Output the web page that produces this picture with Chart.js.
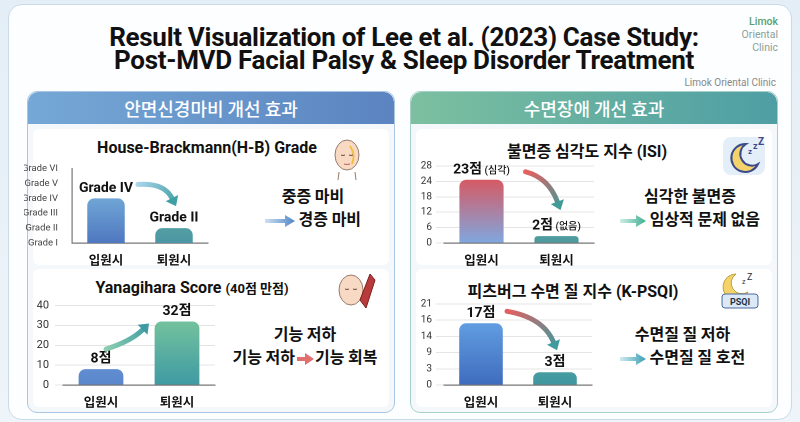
<!DOCTYPE html>
<html>
<head>
<meta charset="utf-8">
<script src="https://cdn.jsdelivr.net/npm/chart.js@4.4.0/dist/chart.umd.min.js"></script>
<style>
  html, body { margin: 0; padding: 0; }
  body {
    width: 800px; height: 422px; overflow: hidden; position: relative;
    background: linear-gradient(180deg, #e4eef6, #eef4f9);
    font-family: "Roboto", "Noto Sans CJK KR", sans-serif;
  }
  .abs { position: absolute; }
  .card {
    left: 8px; top: 4px; width: 782px; height: 414px;
    background: #fdfeff; border: 1px solid #c9dbe8; border-radius: 14px;
  }
  .title {
    left: 4px; width: 800px; text-align: center; font-weight: 700;
    font-size: 26px; line-height: 30px; color: #111; letter-spacing: -0.3px;
  }
  .brand { left: 720px; top: 15px; width: 58px; text-align: right; font-size: 10.5px; line-height: 13px; color: #8aa098; }
  .brand b { color: #5aa070; font-weight: 500; }
  .brand2 { left: 600px; top: 77px; width: 176px; text-align: right; font-size: 10px; color: #888; }
  .panel { top: 91px; width: 366px; height: 320px; border-radius: 10px; background: #f4f8fb; }
  .head { left: 0; top: 0; width: 100%; height: 32px; border-radius: 10px 10px 0 0;
    color: #fff; font-size: 18px; font-family: "Noto Sans CJK KR"; font-weight: 500; text-align: center; line-height: 32px; }
  .sub { background: #fff; border-radius: 6px; }
  .ctitle { font-weight: 700; font-size: 16px; color: #111; text-align: center; font-family: "Roboto", "Noto Sans CJK KR"; }
  .side { font-family: "Noto Sans CJK KR"; font-weight: 700; font-size: 16px; color: #111; text-align: center; line-height: 23px; }
  .arr { display: inline-block; vertical-align: middle; }
  canvas { position: absolute; }
</style>
</head>
<body>
<div class="abs card"></div>
<div class="abs title" style="top:22px">Result Visualization of Lee et al. (2023) Case Study:</div>
<div class="abs title" style="top:45px">Post-MVD Facial Palsy &amp; Sleep Disorder Treatment</div>
<div class="abs brand"><b>Limok</b><br>Oriental<br>Clinic</div>
<div class="abs brand2">Limok Oriental Clinic</div>

<div class="abs panel" style="left:27px; border:1px solid #a9c6e2">
  <div class="abs head" style="background:linear-gradient(90deg,#75a8d6,#5b84c0)">안면신경마비 개선 효과</div>
  <div class="abs sub" style="left:5px; top:37px; width:356px; height:136px;"></div>
  <div class="abs sub" style="left:5px; top:177px; width:356px; height:138px;"></div>
</div>
<div class="abs panel" style="left:410px; border:1px solid #a9d0c8">
  <div class="abs head" style="background:linear-gradient(90deg,#7cc0a0,#4e9ea4)">수면장애 개선 효과</div>
  <div class="abs sub" style="left:5px; top:37px; width:356px; height:136px;"></div>
  <div class="abs sub" style="left:5px; top:177px; width:356px; height:138px;"></div>
</div>

<div class="abs ctitle" style="left:57px; top:138px; width:300px">House-Brackmann(H-B) Grade</div>
<div class="abs ctitle" style="left:42px; top:278px; width:300px">Yanagihara Score <span style="font-size:13px">(40점 만점)</span></div>
<div class="abs ctitle" style="left:437px; top:138px; width:300px">불면증 심각도 지수 (ISI)</div>
<div class="abs ctitle" style="left:423px; top:278px; width:300px">피츠버그 수면 질 지수 (K-PSQI)</div>

<div class="abs side" style="left:248px; top:184px; width:130px">중증 마비<br><span class="arr"><svg width="30" height="12"><defs><linearGradient id="g1"><stop offset="0" stop-color="#cfe0f3"/><stop offset="1" stop-color="#4f86c6"/></linearGradient></defs><path d="M0 4h20v-4l10 6-10 6v-4H0z" fill="url(#g1)"/></svg></span> 경증 마비</div>
<div class="abs side" style="left:220px; top:322px; width:170px">기능 저하<br>기능 저하<span class="arr"><svg width="20" height="12"><path d="M2 4h8v-4l9 6-9 6v-4H2z" fill="#e07070"/></svg></span>기능 회복</div>
<div class="abs side" style="left:600px; top:184px; width:180px">심각한 불면증<br><span class="arr"><svg width="26" height="12"><defs><linearGradient id="g2"><stop offset="0" stop-color="#cfeee4"/><stop offset="1" stop-color="#3fae94"/></linearGradient></defs><path d="M0 4h16v-4l10 6-10 6v-4H0z" fill="url(#g2)"/></svg></span> 임상적 문제 없음</div>
<div class="abs side" style="left:600px; top:322px; width:165px">수면질 질 저하<br><span class="arr"><svg width="26" height="12"><defs><linearGradient id="g3"><stop offset="0" stop-color="#cfeaf0"/><stop offset="1" stop-color="#3a9fb4"/></linearGradient></defs><path d="M0 4h16v-4l10 6-10 6v-4H0z" fill="url(#g3)"/></svg></span> 수면질 질 호전</div>

<!-- simple icons -->
<svg class="abs" style="left:330px; top:136px" width="34" height="44">
  <ellipse cx="17" cy="19" rx="12" ry="15" fill="#f7d9c4" stroke="#9a7a6a" stroke-width="1"/>
  <path d="M9 36 L8 44 M25 36 L26 44" stroke="#9a7a6a"/>
  <path d="M20 10 q6 8 2 18" stroke="#f0c040" stroke-width="2" fill="none"/>
  <path d="M11 19 q2 1 4 0 M19 19 q2 1 4 0" stroke="#6a4a3a" fill="none"/>
  <path d="M14 28 q3 1 6 0" stroke="#c06060" fill="none"/>
</svg>
<svg class="abs" style="left:336px; top:270px" width="40" height="42">
  <ellipse cx="15" cy="20" rx="12" ry="15" fill="#f7d9c4" stroke="#9a7a6a"/>
  <path d="M9 19 q2 1 4 0 M17 19 q2 1 4 0" stroke="#6a4a3a" fill="none"/>
  <path d="M24 30 L34 4 L39 10 L30 38 Z" fill="#b83a3a" stroke="#7a2020"/>
</svg>
<svg class="abs" style="left:722px; top:136px" width="44" height="40">
  <rect x="1" y="1" width="42" height="38" rx="8" fill="#e4eef8"/>
  <path d="M24 8 a14 14 0 1 0 12 20 a11 11 0 1 1 -12 -20z" fill="#f3d36a" stroke="#3a4a8a" stroke-width="2"/>
  <text x="26" y="18" font-size="8" fill="#3a4a8a" font-weight="700">z</text>
  <text x="31" y="13" font-size="9" fill="#3a4a8a" font-weight="700">z</text>
  <text x="36" y="9" font-size="10" fill="#3a4a8a" font-weight="700">Z</text>
</svg>
<svg class="abs" style="left:718px; top:270px" width="44" height="40">
  <path d="M18 4 a13 13 0 1 0 12 18 a10 10 0 1 1 -12 -18z" fill="#f3d36a" stroke="#c0a040"/>
  <text x="24" y="14" font-size="7" fill="#333">z</text>
  <text x="29" y="10" font-size="9" fill="#333">Z</text>
  <rect x="4" y="24" width="36" height="14" rx="3" fill="#dbe8f8" stroke="#4a6a9a"/>
  <text x="22" y="35" font-size="9" font-weight="700" fill="#234" text-anchor="middle">PSQI</text>
</svg>

<canvas id="hb" width="188" height="115" style="left:24px; top:157px"></canvas>
<canvas id="yana" width="182" height="121" style="left:37px; top:293px"></canvas>
<canvas id="isi" width="180" height="116" style="left:418px; top:156px"></canvas>
<canvas id="psqi" width="176" height="120" style="left:420px; top:294px"></canvas>

<script>
// categories
const stages = ['입원시', '퇴원시'];

// House-Brackmann grade (1 = Grade I ... 6 = Grade VI)
const hbGradeLabels = ['Grade I', 'Grade II', 'Grade III', 'Grade IV', 'Grade V', 'Grade VI'];
const hbValues = [4, 2];
const hbBarLabels = [['Grade IV', ''], ['Grade II', '']];

// Yanagihara score (40 max)
const yanaValues = [8, 32];
const yanaBarLabels = [['8점', ''], ['32점', '']];

// ISI
const isiTickLabels = ['0', '6', '12', '18', '24', '28'];
const isiValues = [23, 2.5];
const isiBarLabels = [['23점', ' (심각)'], ['2점', ' (없음)']];

// K-PSQI
const psqiTickLabels = ['0', '3', '9', '14', '16', '21'];
const psqiValues = [16, 3.3];
const psqiBarLabels = [['17점', ''], ['3점', '']];

const FONT = '"Roboto", "Noto Sans CJK KR", sans-serif';

// one scriptable colour per chart: [top, bottom] gradient stops for each bar
function vGrad(stops) {
  return function (ctx) {
    const [colTop, colBottom] = stops[ctx.dataIndex];
    const area = ctx.chart.chartArea;
    if (!area) return colBottom;
    const g = ctx.chart.ctx.createLinearGradient(0, area.top, 0, area.bottom);
    g.addColorStop(0, colTop);
    g.addColorStop(1, colBottom);
    return g;
  };
}

function drawArrow(c, x0, y0, cx, cy, x1, y1, c0, c1) {
  const g = c.createLinearGradient(x0, y0, x1, y1);
  g.addColorStop(0, c0);
  g.addColorStop(1, c1);
  const ang = Math.atan2(y1 - cy, x1 - cx);
  const hx = x1 - Math.cos(ang) * 9, hy = y1 - Math.sin(ang) * 9;
  c.save();
  c.strokeStyle = g;
  c.lineWidth = 5;
  c.lineCap = 'round';
  c.beginPath();
  c.moveTo(x0, y0);
  c.quadraticCurveTo(cx, cy, hx, hy);
  c.stroke();
  c.fillStyle = c1;
  c.beginPath();
  c.moveTo(x1, y1);
  c.lineTo(hx + Math.cos(ang + Math.PI / 2) * 7, hy + Math.sin(ang + Math.PI / 2) * 7);
  c.lineTo(hx - Math.cos(ang + Math.PI / 2) * 7, hy - Math.sin(ang + Math.PI / 2) * 7);
  c.closePath();
  c.fill();
  c.restore();
}

// draws the value labels and the arrow between the two bars
function decoPlugin(labels, bigSize, arrowFn) {
  return {
    id: 'deco',
    afterDatasetsDraw(chart) {
      const c = chart.ctx;
      const bars = chart.getDatasetMeta(0).data;
      c.save();
      c.textBaseline = 'bottom';
      bars.forEach((b, i) => {
        const [big, small] = labels[i];
        c.font = '700 ' + bigSize + 'px ' + FONT;
        const w1 = c.measureText(big).width;
        c.font = '500 10px ' + FONT;
        const w2 = small ? c.measureText(small).width : 0;
        let x = b.x - (w1 + w2) / 2;
        c.fillStyle = '#111';
        c.font = '700 ' + bigSize + 'px ' + FONT;
        c.textAlign = 'left';
        c.fillText(big, x, b.y - 3);
        if (small) {
          c.font = '500 10px ' + FONT;
          c.fillText(small, x + w1, b.y - 4);
        }
      });
      c.restore();
      arrowFn(c, bars);
    }
  };
}

function makeChart(id, values, colors, yOpts, labels, bigSize, arrowFn, barPct) {
  return new Chart(document.getElementById(id), {
    type: 'bar',
    data: {
      labels: stages,
      datasets: [{
        data: values,
        backgroundColor: colors,
        borderRadius: { topLeft: 7, topRight: 7 },
        borderSkipped: 'bottom',
        barPercentage: barPct || 0.62,
        categoryPercentage: 0.95
      }]
    },
    options: {
      responsive: false,
      animation: false,
      devicePixelRatio: 2,
      layout: { padding: { top: 4, right: 4 } },
      plugins: { legend: { display: false }, tooltip: { enabled: false } },
      scales: {
        x: {
          grid: { display: false },
          border: { color: '#777', width: 1.2 },
          ticks: { color: '#111', font: { family: FONT, size: 12.5, weight: '700' }, padding: 3 }
        },
        y: yOpts
      }
    },
    plugins: [decoPlugin(labels, bigSize, arrowFn)]
  });
}

const yTickFont = { family: FONT, size: 10 };

makeChart('hb', hbValues,
  vGrad([['#86c4e4', '#4f78c0'], ['#74c4a4', '#4c96a4']]),
  {
    min: 1, max: 6,
    afterFit(s) { s.width = 48; },
    grid: { display: false },
    border: { color: '#777', width: 1.2 },
    ticks: { stepSize: 1, autoSkip: false, color: '#444', font: { family: FONT, size: 9.5 }, padding: 6,
      callback: v => hbGradeLabels[v - 1] }
  },
  hbBarLabels, 14,
  (c, b) => drawArrow(c, b[0].x + 32, b[0].y - 14, b[1].x - 10, b[0].y - 16, b[1].x + 2, b[1].y - 22, '#a8d4ea', '#3f9fa4'),
  0.58);

makeChart('yana', yanaValues,
  vGrad([['#7fb0e4', '#5a86cc'], ['#80cc9c', '#3f9aa4']]),
  {
    min: 0, max: 40,
    afterFit(s) { s.width = 26; },
    grid: { color: '#e4e4e4' },
    border: { display: false },
    ticks: { stepSize: 10, autoSkip: false, color: '#333', font: { family: FONT, size: 11 }, padding: 6 }
  },
  yanaBarLabels, 14,
  (c, b) => drawArrow(c, b[0].x + 5, b[0].y - 20, b[0].x + 30, b[0].y - 28, b[1].x - 28, b[1].y + 2, '#8ccfb0', '#3f9aa4'));

makeChart('isi', isiValues,
  vGrad([['#e84a4a', '#80a8e0'], ['#5fae94', '#4e9aa0']]),
  {
    min: 0, max: 28,
    afterFit(s) { s.width = 26; },
    afterBuildTicks(s) { s.ticks = isiTickLabels.map((t, i) => ({ value: i * 5.6 })); },
    grid: { color: '#e4e4e4' },
    border: { display: false },
    ticks: { autoSkip: false, color: '#333', font: yTickFont, padding: 4,
      callback: (v, i) => isiTickLabels[i] }
  },
  isiBarLabels, 14,
  (c, b) => drawArrow(c, b[0].x + 44, b[0].y - 8, b[1].x - 8, b[0].y - 2, b[1].x + 4, b[1].y - 26, '#e86060', '#3f9a98'));

makeChart('psqi', psqiValues,
  vGrad([['#6cacec', '#3f6cbe'], ['#72c4a0', '#3f96a0']]),
  {
    min: 0, max: 21,
    afterFit(s) { s.width = 24; },
    afterBuildTicks(s) { s.ticks = psqiTickLabels.map((t, i) => ({ value: i * 4.2 })); },
    grid: { color: '#e4e4e4' },
    border: { display: false },
    ticks: { autoSkip: false, color: '#333', font: yTickFont, padding: 4,
      callback: (v, i) => psqiTickLabels[i] }
  },
  psqiBarLabels, 14,
  (c, b) => drawArrow(c, b[0].x + 26, b[0].y - 12, b[1].x - 12, b[0].y - 6, b[1].x + 2, b[1].y - 22, '#e46060', '#3f9aa0'));
</script>
</body>
</html>
